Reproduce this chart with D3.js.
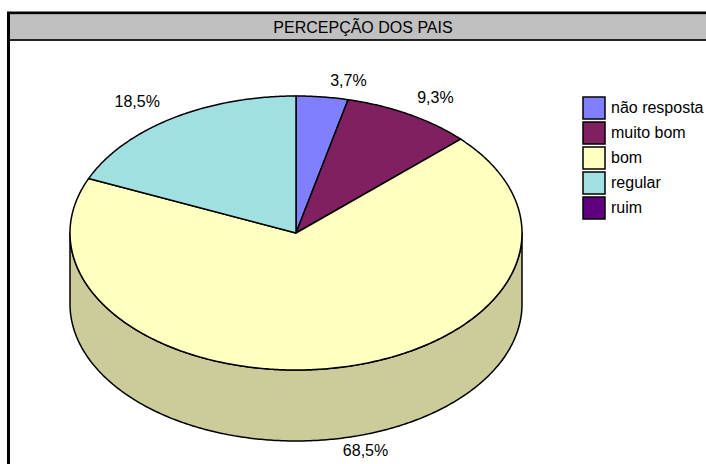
<!DOCTYPE html>
<meta charset="utf-8">
<style>
body { margin: 0; background: #fff; }
svg { display: block; font-family: "Liberation Sans", Arial, sans-serif; }
</style>
<svg id="chart" width="706" height="464"></svg>
<script src="https://cdn.jsdelivr.net/npm/d3@7/dist/d3.min.js"></script>
<script>

var title = "PERCEPÇÃO DOS PAIS";
var categories = ["não resposta", "muito bom", "bom", "regular", "ruim"];
var values = [3.7, 9.3, 68.5, 18.5, 0];
var valueLabels = ["3,7%", "9,3%", "68,5%", "18,5%", ""];
var colors = ["#8080FF", "#802060", "#FFFFC0", "#A0E0E0", "#600080"];

var svg = d3.select("#chart");
var width = 706, height = 464;

// pie geometry (top ellipse + depth)
var cx = 296, cy = 233, rx = 226, ry = 137, depth = 71;

// frame
svg.append("rect")
	.attr("x", 8.5).attr("y", 13)
	.attr("width", 760).attr("height", 520)
	.attr("fill", "#fff")
	.attr("stroke", "#000").attr("stroke-width", 3);

// title band
svg.append("rect")
	.attr("x", 10).attr("y", 14.5)
	.attr("width", 760).attr("height", 25)
	.attr("fill", "#C0C0C0");
svg.append("line")
	.attr("x1", 10).attr("x2", 706)
	.attr("y1", 40).attr("y2", 40)
	.attr("stroke", "#222").attr("stroke-width", 2);
svg.append("text")
	.attr("x", 363).attr("y", 33)
	.attr("text-anchor", "middle")
	.attr("font-size", 16)
	.attr("fill", "#000")
	.text(title);

var pie = d3.pie().sort(null).value(function(d){ return d; });
var arcs = pie(values);

function pt(a, dy){
	return [cx + rx * Math.sin(a), cy - ry * Math.cos(a) + (dy || 0)];
}

function shade(c){
	var r = d3.rgb(c);
	return d3.rgb(r.r * 0.8, r.g * 0.8, r.b * 0.8).toString();
}

function arcPoints(a0, a1, dy){
	var n = Math.max(2, Math.ceil((a1 - a0) / 0.01));
	return d3.range(n + 1).map(function(i){ return pt(a0 + (a1 - a0) * i / n, dy); });
}

// sides (front half only)
arcs.forEach(function(d, i){
	var a0 = Math.max(d.startAngle, Math.PI / 2);
	var a1 = Math.min(d.endAngle, Math.PI * 3 / 2);
	if (a1 <= a0) return;
	var p = d3.path();
	var top = arcPoints(a0, a1, 0);
	var bot = arcPoints(a0, a1, depth).reverse();
	p.moveTo(top[0][0], top[0][1]);
	top.concat(bot).forEach(function(q){ p.lineTo(q[0], q[1]); });
	p.closePath();
	svg.append("path")
		.attr("d", p.toString())
		.attr("fill", shade(colors[i]))
		.attr("stroke", "#000").attr("stroke-width", 1.5)
		.attr("stroke-linejoin", "round");
});

// tops
arcs.forEach(function(d, i){
	if (d.endAngle - d.startAngle <= 0) return;
	var p = d3.path();
	p.moveTo(cx, cy);
	arcPoints(d.startAngle, d.endAngle, 0).forEach(function(q){ p.lineTo(q[0], q[1]); });
	p.closePath();
	svg.append("path")
		.attr("d", p.toString())
		.attr("fill", colors[i])
		.attr("stroke", "#000").attr("stroke-width", 1.5)
		.attr("stroke-linejoin", "round");
});

// value labels
arcs.forEach(function(d, i){
	if (!valueLabels[i]) return;
	var a = (d.startAngle + d.endAngle) / 2;
	var front = Math.cos(a) < 0;
	var e = pt(a, front ? depth : 0);
	var right = Math.sin(a) >= 0;
	svg.append("text")
		.attr("x", e[0] + (right ? 8 : -12))
		.attr("y", front ? e[1] + 17 : e[1] - 11)
		.attr("text-anchor", right ? "start" : "end")
		.attr("font-size", 16)
		.attr("fill", "#000")
		.text(valueLabels[i]);
});

// legend
var legend = svg.append("g").attr("transform", "translate(583,97)");
var row = d3.scaleBand().domain(categories).range([0, 125]);
var item = legend.selectAll("g").data(categories).enter().append("g")
	.attr("transform", function(d){ return "translate(0," + row(d) + ")"; });
item.append("rect")
	.attr("width", 22).attr("height", 22)
	.attr("fill", function(d, i){ return colors[i]; })
	.attr("stroke", "#000").attr("stroke-width", 1.5);
item.append("text")
	.attr("x", 28).attr("y", 16)
	.attr("font-size", 16)
	.attr("fill", "#000")
	.text(function(d){ return d; });

</script>
